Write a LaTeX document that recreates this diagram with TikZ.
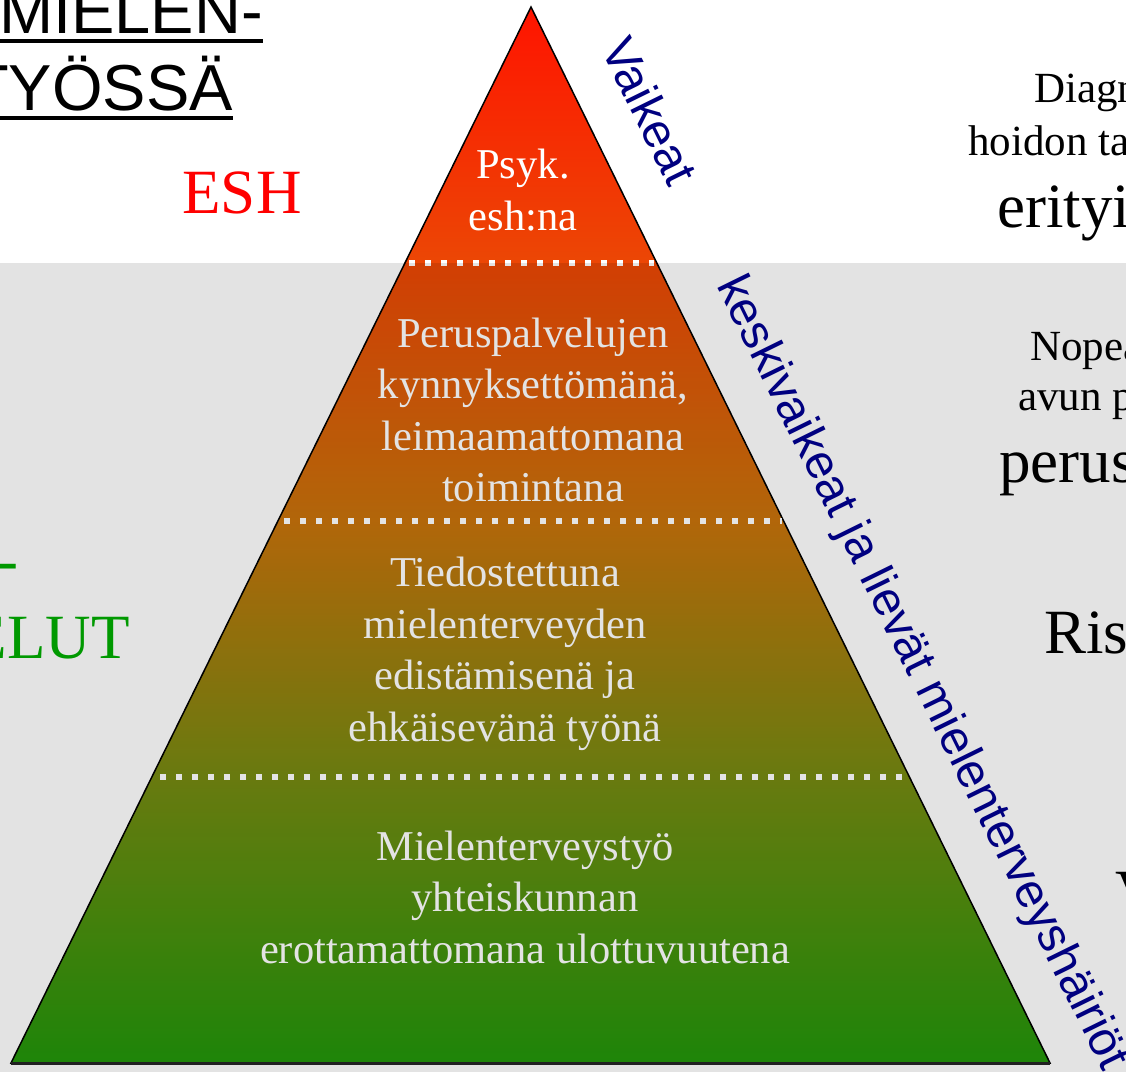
\documentclass[tikz,border=0pt]{standalone}
\usepackage{fontspec}
\setmainfont{Liberation Serif}
\newfontfamily\arialfont{Liberation Sans}
\usetikzlibrary{positioning, calc}

\definecolor{eshred}{RGB}{255,0,0}
\definecolor{pvgreen}{RGB}{0,153,0}
\definecolor{labelnavy}{RGB}{0,0,128}

\newcommand{\tierfont}{\fontsize{42.5}{51.5}\selectfont}
\newcommand{\sidefont}{\fontsize{43}{50}\selectfont}
\newcommand{\bigserif}{\fontsize{63}{75}\selectfont}
\newcommand{\headfont}{\arialfont\fontsize{65}{77}\selectfont}
\newcommand{\slopefont}{\arialfont\fontsize{48}{56}\selectfont}

\pgfdeclareverticalshading{pyramid}{100bp}{%
  rgb(0bp)=(0.133,0.588,0.043); rgb(25bp)=(0.133,0.588,0.043);
  rgb(38.6bp)=(0.463,0.541,0.067); rgb(50.7bp)=(0.784,0.451,0.047);
  rgb(62.6bp)=(0.922,0.282,0.020); rgb(75bp)=(1,0.078,0);
  rgb(100bp)=(1,0.078,0)}

\begin{document}
\begin{tikzpicture}[x=1pt, y=1pt,
  every node/.style={inner sep=0pt},
  tier/.style={text=white, align=center, font=\tierfont},
  side/.style={anchor=base west, font=\sidefont},
  sidebig/.style={anchor=base west, font=\bigserif},
  tierline/.style={white, line width=6.5pt, dash pattern=on 6pt off 10pt},
  slope/.style={anchor=base west, rotate=-63.8, text=labelnavy, font=\slopefont}]
\useasboundingbox (0,0) rectangle (1126,-1072);
\clip (0,0) rectangle (1126,-1072);
\fill[white] (0,0) rectangle (1126,-1072);

\coordinate (top) at (531,-7);
\coordinate (bl) at (11,-1063);
\coordinate (br) at (1050,-1063);
\shade[shading=pyramid, draw=black, line width=1.5pt, line join=miter]
  (top) -- (br) -- (bl) -- cycle;
\draw[black!85, line width=3pt] (bl) -- (br);

\draw[tierline] (409,-263) -- (654,-263);
\draw[tierline] (284,-521) -- (782,-521);
\draw[tierline] (160,-777) -- (906,-777);

\node (psyk) [tier] at (523,-190) {Psyk.\\esh:na};
\node (perus) [tier] at (533,-410)
  {Peruspalvelujen\\kynnyksettömänä,\\leimaamattomana\\toimintana};
\node (tiedo) [tier] at (505,-654)
  {Tiedostettuna\\mielenterveyden\\edistämisenä ja\\ehkäisevänä työnä};
\node (yhteis) [tier] at (525,-897)
  {Mielenterveystyö\\yhteiskunnan\\erottamattomana ulottuvuutena};

\fill[black, opacity=0.11] (0,-263) rectangle (1126,-1072);

\node (mielen) [anchor=base east, font=\headfont] at (263,-33) {MIELEN-};
\node (tyossa) [anchor=base east, font=\headfont] at (233,-110) {TYÖSSÄ};
\draw[line width=4pt] ([yshift=-7.5pt]mielen.base west) -- ([yshift=-7.5pt]mielen.base east);
\draw[line width=4pt] ([yshift=-7.5pt]tyossa.base west) -- ([yshift=-7.5pt]tyossa.base east);

\node (esh) [anchor=base, text=eshred, font=\bigserif] at (242,-213) {ESH};
\node (hyph) [anchor=base east, text=pvgreen, font=\bigserif] at (19,-581) {-};
\node (elut) [anchor=base east, text=pvgreen, font=\bigserif] at (130,-658) {ELUT};

\node (vaikeat) [slope] at (600,-48) {Vaikeat};
\node (lievat) [slope] at (716,-285) {keskivaikeat ja lievät mielenterveyshäiriöt};

\node (diag) [side] at (1034,-102) {Diagn};
\node (hoidon) [side] at (968,-155) {hoidon ta};
\node (erit) [sidebig] at (997,-227) {erityi};
\node (nopea) [side] at (1030,-360) {Nopea};
\node (avun) [side] at (1018,-410) {avun p};
\node (perusp) [sidebig] at (999,-482) {perus};
\node (ris) [sidebig] at (1044,-653) {Ris};
\node (vee) [sidebig] at (1115,-913) {V};
\end{tikzpicture}
\end{document}
